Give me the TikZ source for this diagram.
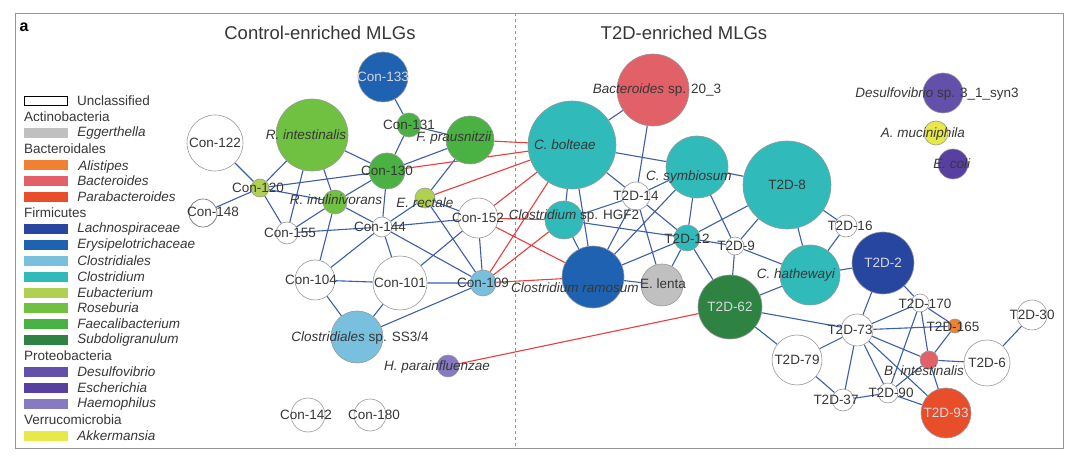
\documentclass[tikz,border=0pt]{standalone}
\usepackage{fontspec}
\setmainfont{Liberation Sans}
\usepackage{xcolor}
\usepackage{tikz}
\usetikzlibrary{positioning}
\definecolor{txtgray}{RGB}{55,55,55}
\definecolor{lightlbl}{RGB}{215,215,220}
\definecolor{framegray}{RGB}{150,150,150}
\definecolor{blueedge}{RGB}{60,95,172}
\definecolor{rededge}{RGB}{232,62,62}
\definecolor{eggerthella}{RGB}{192,192,192}
\definecolor{alistipes}{RGB}{240,128,50}
\definecolor{bacteroides}{RGB}{226,96,104}
\definecolor{parabact}{RGB}{232,78,42}
\definecolor{lachno}{RGB}{38,70,160}
\definecolor{erysip}{RGB}{32,98,178}
\definecolor{clostridiales}{RGB}{120,192,222}
\definecolor{clostridium}{RGB}{48,186,186}
\definecolor{eubact}{RGB}{176,208,82}
\definecolor{roseburia}{RGB}{112,192,66}
\definecolor{faecali}{RGB}{74,178,66}
\definecolor{subdoli}{RGB}{46,130,66}
\definecolor{desulfo}{RGB}{98,80,170}
\definecolor{escher}{RGB}{88,64,160}
\definecolor{haemo}{RGB}{136,122,194}
\definecolor{akkerm}{RGB}{232,232,72}
\pgfdeclarelayer{edges}
\pgfsetlayers{edges,main}
\tikzset{
	mlg/.style={circle, draw=black!40, line width=0.6bp, inner sep=0pt},
	lbl/.style={font=\fontsize{13.5bp}{15bp}\selectfont, text=txtgray, inner sep=0pt},
	onDark/.style={text=lightlbl},
	link/.style={draw=blueedge, line width=1.1bp},
	cross/.style={draw=rededge, line width=1.1bp},
	legbox/.style={rectangle, minimum width=44bp, minimum height=10bp, inner sep=0pt, draw=none},
	legtext/.style={font=\fontsize{13.5bp}{15bp}\selectfont, text=txtgray, inner sep=0pt},
	leghead/.style={font=\fontsize{13.5bp}{15bp}\selectfont, text=txtgray, inner sep=0pt, anchor=west},
}

\begin{document}
\begin{tikzpicture}[x=1bp, y=-1bp]
			\useasboundingbox (0,0) rectangle (1080,461);
			\node[font=\fontsize{16bp}{18bp}\selectfont\bfseries, inner sep=0pt] (panel) at (24,27) {a};
			\node[font=\fontsize{18.5bp}{20bp}\selectfont, text=txtgray] (title-con) at (320,33) {Control-enriched MLGs};
			\node[font=\fontsize{18.5bp}{20bp}\selectfont, text=txtgray] (title-t2d) at (684,33) {T2D-enriched MLGs};
			% legend
			\node[legbox, draw=black, line width=0.8bp, minimum width=43bp, minimum height=9bp, label={[legtext, label distance=9bp]right:Unclassified}] (leg-uncl) at (46,101) {};
			\node[leghead] (leg-actino) at (24,117) {Actinobacteria};
			\node[legbox, fill=eggerthella, label={[legtext, label distance=9bp]right:\textit{Eggerthella}}] (leg-egg) at (46,133) {};
			\node[leghead] (leg-bacto) at (24,149) {Bacteroidales};
			\node[legbox, fill=alistipes, label={[legtext, label distance=10bp, yshift=-2bp]right:\textit{Alistipes}}] (leg-ali) at (46,165) {};
			\node[legbox, fill=bacteroides, label={[legtext, label distance=9bp]right:\textit{Bacteroides}}] (leg-bac) at (46,181) {};
			\node[legbox, fill=parabact, label={[legtext, label distance=9bp]right:\textit{Parabacteroides}}] (leg-para) at (46,197) {};
			\node[leghead] (leg-firm) at (24,213) {Firmicutes};
			\node[legbox, fill=lachno, label={[legtext, label distance=9bp]right:\textit{Lachnospiraceae}}] (leg-lach) at (46,229) {};
			\node[legbox, fill=erysip, label={[legtext, label distance=9bp]right:\textit{Erysipelotrichaceae}}] (leg-ery) at (46,245) {};
			\node[legbox, fill=clostridiales, label={[legtext, label distance=9bp]right:\textit{Clostridiales}}] (leg-cles) at (46,261) {};
			\node[legbox, fill=clostridium, label={[legtext, label distance=9bp]right:\textit{Clostridium}}] (leg-clum) at (46,277) {};
			\node[legbox, fill=eubact, label={[legtext, label distance=9bp]right:\textit{Eubacterium}}] (leg-eub) at (46,293) {};
			\node[legbox, fill=roseburia, label={[legtext, label distance=9bp]right:\textit{Roseburia}}] (leg-ros) at (46,308) {};
			\node[legbox, fill=faecali, label={[legtext, label distance=9bp]right:\textit{Faecalibacterium}}] (leg-fae) at (46,324) {};
			\node[legbox, fill=subdoli, label={[legtext, label distance=9bp]right:\textit{Subdoligranulum}}] (leg-sub) at (46,340) {};
			\node[leghead] (leg-proteo) at (24,356) {Proteobacteria};
			\node[legbox, fill=desulfo, label={[legtext, label distance=9bp]right:\textit{Desulfovibrio}}] (leg-des) at (46,372) {};
			\node[legbox, fill=escher, label={[legtext, label distance=9bp]right:\textit{Escherichia}}] (leg-esc) at (46,388) {};
			\node[legbox, fill=haemo, label={[legtext, label distance=9bp]right:\textit{Haemophilus}}] (leg-hae) at (46,404) {};
			\node[leghead] (leg-verru) at (24,420) {Verrucomicrobia};
			\node[legbox, fill=akkerm, label={[legtext, label distance=9bp]right:\textit{Akkermansia}}] (leg-akk) at (46,436) {};
			% control-enriched MLGs
			\node[mlg, fill=erysip, minimum size=50bp] (con133) at (383,77) {};
			\node[mlg, fill=roseburia, minimum size=72bp] (rint) at (312,135) {};
			\node[mlg, fill=white, minimum size=56bp] (con122) at (215,143) {};
			\node[mlg, fill=faecali, minimum size=24bp] (con131) at (409,125) {};
			\node[mlg, fill=faecali, minimum size=48bp] (fpra) at (470,140) {};
			\node[mlg, fill=faecali, minimum size=36bp] (con130) at (387,171) {};
			\node[mlg, fill=eubact, minimum size=18bp] (con120) at (260,188) {};
			\node[mlg, fill=white, draw=black!60, minimum size=28bp] (con148) at (203,213) {};
			\node[mlg, fill=roseburia, minimum size=24bp] (rinu) at (335,202) {};
			\node[mlg, fill=eubact, minimum size=20bp] (erec) at (425,198) {};
			\node[mlg, fill=white, minimum size=40bp] (con152) at (478,218) {};
			\node[mlg, fill=white, minimum size=20bp] (con144) at (382,227) {};
			\node[mlg, fill=white, minimum size=22bp] (con155) at (287,233) {};
			\node[mlg, fill=white, minimum size=40bp] (con104) at (315,280) {};
			\node[mlg, fill=white, minimum size=54bp] (con101) at (400,283) {};
			\node[mlg, fill=clostridiales, minimum size=26bp] (con109) at (483,283) {};
			\node[mlg, fill=clostridiales, minimum size=52bp] (css) at (357,337) {};
			\node[mlg, fill=haemo, minimum size=22bp] (hpar) at (448,366) {};
			\node[mlg, fill=white, minimum size=34bp] (con142) at (308,415) {};
			\node[mlg, fill=white, minimum size=32bp] (con180) at (370,415) {};
			% T2D-enriched MLGs
			\node[mlg, fill=bacteroides, minimum size=72bp] (bac20) at (653,90) {};
			\node[mlg, fill=clostridium, minimum size=88bp] (cbol) at (572,145) {};
			\node[mlg, fill=clostridium, minimum size=62bp] (csym) at (697,167) {};
			\node[mlg, fill=white, minimum size=28bp] (t2d14) at (636,196) {};
			\node[mlg, fill=clostridium, minimum size=88bp] (t2d8) at (787,185) {};
			\node[mlg, fill=clostridium, minimum size=38bp] (hgf2) at (564,220) {};
			\node[mlg, fill=clostridium, minimum size=26bp] (t2d12) at (687,238) {};
			\node[mlg, fill=white, minimum size=18bp] (t2d9) at (735,246) {};
			\node[mlg, fill=white, minimum size=22bp] (t2d16) at (846,226) {};
			\node[mlg, fill=clostridium, minimum size=60bp] (chat) at (810,275) {};
			\node[mlg, fill=eggerthella, minimum size=42bp] (elenta) at (662,285) {};
			\node[mlg, fill=erysip, minimum size=62bp] (cram) at (593,277) {};
			\node[mlg, fill=subdoli, minimum size=64bp] (t2d62) at (730,307) {};
			\node[mlg, fill=lachno, minimum size=62bp] (t2d2) at (883,263) {};
			\node[mlg, fill=white, minimum size=32bp] (t2d73) at (857,330) {};
			\node[mlg, fill=white, minimum size=18bp] (t2d170) at (920,303) {};
			\node[mlg, fill=alistipes, minimum size=14bp] (t2d165) at (955,326) {};
			\node[mlg, fill=white, minimum size=30bp] (t2d30) at (1032,315) {};
			\node[mlg, fill=bacteroides, minimum size=18bp] (bint) at (929,360) {};
			\node[mlg, fill=white, minimum size=46bp] (t2d6) at (987,363) {};
			\node[mlg, fill=white, minimum size=50bp] (t2d79) at (797,360) {};
			\node[mlg, fill=white, minimum size=22bp] (t2d37) at (843,400) {};
			\node[mlg, fill=white, minimum size=20bp] (t2d90) at (888,393) {};
			\node[mlg, fill=parabact, minimum size=50bp] (t2d93) at (946,413) {};
			\node[mlg, fill=desulfo, minimum size=40bp] (desulf) at (943,93) {};
			\node[mlg, fill=akkerm, minimum size=24bp] (amuc) at (936,133) {};
			\node[mlg, fill=escher, minimum size=30bp] (ecoli) at (953,164) {};
			\begin{pgfonlayer}{edges}
			\fill[white] (0,0) rectangle (1080,461);
			\draw[framegray, line width=0.9bp] (15,13) rectangle (1063,448);
			\draw[framegray, dashed, line width=0.7bp] (515,13) -- (515,448);
			% blue links, control side
			\path[link] (con133) -- (con131) (con131) -- (con130) (con131) -- (fpra)
				(rint) -- (con130) (rint) -- (con120) (rint) -- (con155) (rint) -- (rinu)
				(con122) -- (con120) (con120) -- (con148) (con120) -- (con130) (con120) -- (rinu) (con120) -- (con155)
				(con130) -- (rinu) (con130) -- (fpra) (con130) -- (con144)
				(fpra) -- (erec) (erec) -- (con152) (erec) -- (con109) (erec) -- (con144)
				(con144) -- (con152) (con144) -- (con155) (con144) -- (con104) (con144) -- (con101) (con144) -- (con109) (con144) -- (rinu)
				(con155) -- (rinu) (rinu) -- (con104)
				(con152) -- (con101) (con152) -- (con109)
				(con104) -- (con101) (con101) -- (con109)
				(con104) -- (css) (con101) -- (css) (con109) -- (css);
			% blue links, T2D side
			\path[link] (bac20) -- (cbol) (bac20) -- (t2d14)
				(cbol) -- (csym) (cbol) -- (t2d14) (cbol) -- (hgf2) (cbol) -- (cram)
				(hgf2) -- (t2d14) (hgf2) -- (t2d12) (hgf2) -- (cram)
				(t2d14) -- (csym) (t2d14) -- (cram) (t2d14) -- (elenta) (t2d14) -- (t2d12)
				(csym) -- (cram) (csym) -- (t2d12) (csym) -- (t2d9) (csym) -- (t2d8)
				(t2d8) -- (t2d12) (t2d8) -- (t2d9) (t2d8) -- (chat) (t2d8) -- (t2d16)
				(t2d12) -- (cram) (t2d12) -- (elenta) (t2d12) -- (t2d9) (t2d12) -- (t2d62)
				(t2d9) -- (t2d62) (t2d9) -- (chat) (t2d16) -- (chat)
				(chat) -- (t2d62) (chat) -- (t2d2) (cram) -- (elenta)
				(t2d62) -- (t2d73) (t2d62) -- (t2d79)
				(t2d2) -- (t2d73) (t2d2) -- (t2d170)
				(t2d73) -- (t2d170) (t2d73) -- (t2d165) (t2d73) -- (bint) (t2d73) -- (t2d79)
				(t2d73) -- (t2d37) (t2d73) -- (t2d90) (t2d73) -- (t2d93)
				(t2d170) -- (t2d90) (t2d170) -- (bint) (t2d170) -- (t2d165) (t2d165) -- (bint)
				(bint) -- (t2d6) (bint) -- (t2d93) (bint) -- (t2d90)
				(t2d79) -- (t2d37) (t2d37) -- (t2d90) (t2d90) -- (t2d93) (t2d6) -- (t2d30);
			% red links across
			\path[cross] (fpra) -- (cbol) (con130) -- (cbol) (erec) -- (cbol) (con152) -- (cbol) (con109) -- (cbol)
				(con152) -- (hgf2) (con152) -- (cram) (con109) -- (hgf2) (con109) -- (cram)
				(hpar) -- (t2d62);
			\end{pgfonlayer}
			% labels
			\node[lbl, onDark] (l-con133) at (con133) {Con-133};
			\node[lbl] (l-rint) at ([xshift=-6bp]rint.center) {\textit{R. intestinalis}};
			\node[lbl] (l-con122) at (con122) {Con-122};
			\node[lbl] (l-con131) at (con131) {Con-131};
			\node[lbl] (l-fpra) at ([xshift=-16bp,yshift=2bp]fpra.center) {\textit{F. prausnitzii}};
			\node[lbl] (l-con130) at (con130) {Con-130};
			\node[lbl] (l-con120) at ([xshift=-2bp]con120.center) {Con-120};
			\node[lbl] (l-con148) at ([xshift=10bp,yshift=1bp]con148.center) {Con-148};
			\node[lbl] (l-rinu) at ([xshift=1bp,yshift=2bp]rinu.center) {\textit{R. inulinivorans}};
			\node[lbl] (l-erec) at ([yshift=-5bp]erec.center) {\textit{E. rectale}};
			\node[lbl] (l-con152) at (con152) {Con-152};
			\node[lbl] (l-con144) at ([xshift=-2bp]con144.center) {Con-144};
			\node[lbl] (l-con155) at ([xshift=3bp]con155.center) {Con-155};
			\node[lbl] (l-con104) at ([xshift=-4bp]con104.center) {Con-104};
			\node[lbl] (l-con101) at (con101) {Con-101};
			\node[lbl] (l-con109) at (con109) {Con-109};
			\node[lbl] (l-css) at ([xshift=3bp,yshift=-1bp]css.center) {\textit{Clostridiales} sp. SS3/4};
			\node[lbl] (l-hpar) at ([xshift=-11bp,yshift=-1bp]hpar.center) {\textit{H. parainfluenzae}};
			\node[lbl] (l-con142) at ([xshift=-2bp]con142.center) {Con-142};
			\node[lbl] (l-con180) at ([xshift=4bp]con180.center) {Con-180};
			\node[lbl] (l-bac20) at ([xshift=4bp]bac20.center) {\textit{Bacteroides} sp. 20\_3};
			\node[lbl] (l-cbol) at ([xshift=-7bp]cbol.center) {\textit{C. bolteae}};
			\node[lbl] (l-csym) at ([xshift=-8bp,yshift=-10bp]csym.center) {\textit{C. symbiosum}};
			\node[lbl] (l-t2d14) at (t2d14) {T2D-14};
			\node[lbl] (l-t2d8) at (t2d8) {T2D-8};
			\node[lbl] (l-hgf2) at ([xshift=10bp,yshift=4bp]hgf2.center) {\textit{Clostridium} sp. HGF2};
			\node[lbl] (l-t2d12) at ([yshift=-1bp]t2d12.center) {T2D-12};
			\node[lbl] (l-t2d9) at ([xshift=1bp]t2d9.center) {T2D-9};
			\node[lbl] (l-t2d16) at ([xshift=4bp]t2d16.center) {T2D-16};
			\node[lbl] (l-chat) at ([xshift=-14bp]chat.center) {\textit{C. hathewayi}};
			\node[lbl] (l-elenta) at ([xshift=1bp,yshift=1bp]elenta.center) {E. lenta};
			\node[lbl] (l-cram) at ([xshift=-18bp,yshift=-11bp]cram.center) {\textit{Clostridium ramosum}};
			\node[lbl, onDark] (l-t2d62) at (t2d62) {T2D-62};
			\node[lbl, onDark] (l-t2d2) at (t2d2) {T2D-2};
			\node[lbl] (l-t2d73) at ([xshift=-7bp]t2d73.center) {T2D-73};
			\node[lbl] (l-t2d170) at ([xshift=5bp,yshift=-1bp]t2d170.center) {T2D-170};
			\node[lbl] (l-t2d165) at ([xshift=-2bp,yshift=-1bp]t2d165.center) {T2D-165};
			\node[lbl] (l-t2d30) at (t2d30) {T2D-30};
			\node[lbl] (l-bint) at ([xshift=-5bp,yshift=-11bp]bint.center) {\textit{B. intestinalis}};
			\node[lbl] (l-t2d6) at (t2d6) {T2D-6};
			\node[lbl] (l-t2d79) at (t2d79) {T2D-79};
			\node[lbl] (l-t2d37) at ([xshift=-7bp]t2d37.center) {T2D-37};
			\node[lbl] (l-t2d90) at ([xshift=3bp]t2d90.center) {T2D-90};
			\node[lbl, onDark] (l-t2d93) at (t2d93) {T2D-93};
			\node[lbl] (l-desulf) at ([xshift=-6bp,yshift=-1bp]desulf.center) {\textit{Desulfovibrio} sp. 3\_1\_syn3};
			\node[lbl] (l-amuc) at ([xshift=-13bp,yshift=-1bp]amuc.center) {\textit{A. muciniphila}};
			\node[lbl] (l-ecoli) at ([xshift=-1bp]ecoli.center) {\textit{E. coli}};
		\end{tikzpicture}
\end{document}
